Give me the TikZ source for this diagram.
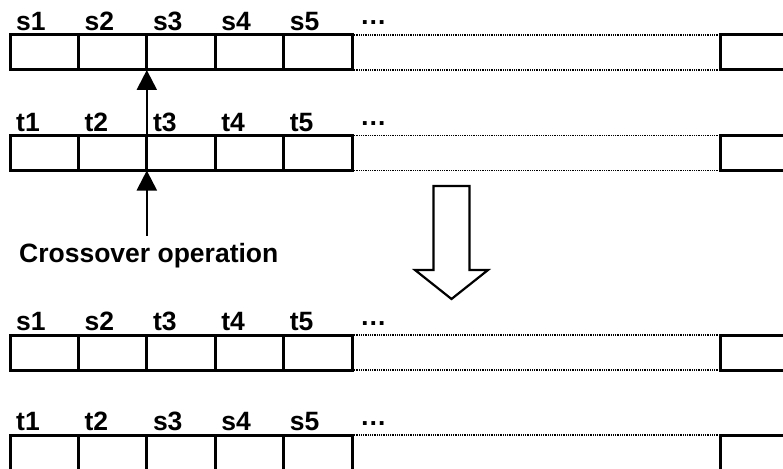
\documentclass[tikz,border=0pt]{standalone}
\usepackage{fontspec}
\setmainfont{Liberation Sans}
\usetikzlibrary{arrows.meta}
\begin{document}
\begin{tikzpicture}[x=1pt,y=-1pt,
  cell/.style={draw,line width=3pt,minimum width=68.4pt,minimum height=35pt,inner sep=0pt,outer sep=0pt},
  lbl/.style={anchor=base west,font=\bfseries\fontsize{26.5}{27}\selectfont,inner sep=0pt},
  gap/.style={line width=1.3pt,dash pattern=on 1pt off 0.8pt},
  pointer/.style={line width=2.2pt,-{Triangle[width=20pt,length=20pt]}}]
\useasboundingbox (0,0) rectangle (783,468);
\clip (0,0) rectangle (783,468);
\foreach \r/\yc/\la/\lb/\lc/\ld/\le in {a/52.5/s1/s2/s3/s4/s5, b/153/t1/t2/t3/t4/t5, c/352.5/s1/s2/t3/t4/t5, d/452.5/t1/t2/s3/s4/s5} {
  \foreach \i/\lab in {1/\la,2/\lb,3/\lc,4/\ld,5/\le} {
    \node[cell] (\r\i) at ({10+68.4*(\i-0.5)},\yc) {};
    \node[lbl] (\r\i l) at ([xshift=6pt,yshift=4.5pt]\r\i.north west) {\lab};
  }
  \node[cell,minimum width=70pt] (\r e) at (755,\yc) {};
  \draw[gap] (\r5.north east) -- (\r e.north west);
  \draw[gap] (\r5.south east) -- (\r e.south west);
  \node[lbl] (\r dots) at ([xshift=8pt,yshift=4.5pt]\r5.north east) {\raisebox{5.5pt}{…}};
}
\draw[pointer] (b3.north west) -- (a3.south west);
\coordinate (base) at ([yshift=-65pt]b3.south west);
\draw[pointer] (base) -- (b3.south west);
\node[lbl] (op) at (19,262) {Crossover operation};
\draw[line width=2.2pt,line join=miter] (433.5,186) -- (469.5,186) -- (469.5,270) -- (488,270) -- (451.5,299) -- (415,270) -- (433.5,270) -- cycle;
\end{tikzpicture}
\end{document}
